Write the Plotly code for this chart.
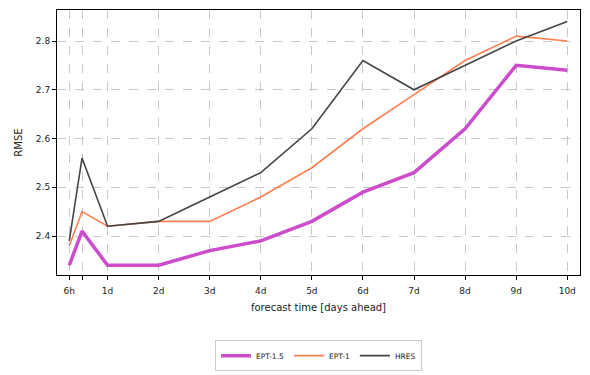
import plotly.graph_objects as go

days = [0.25, 0.5, 1, 2, 3, 4, 5, 6, 7, 8, 9, 10]
tick_vals = [0.25, 0.5, 1, 2, 3, 4, 5, 6, 7, 8, 9, 10]
tick_text = ["6h", "", "1d", "2d", "3d", "4d", "5d", "6d", "7d", "8d", "9d", "10d"]

ept15 = [2.34, 2.41, 2.34, 2.34, 2.37, 2.39, 2.43, 2.49, 2.53, 2.62, 2.75, 2.74]
ept1 = [2.38, 2.45, 2.42, 2.43, 2.43, 2.48, 2.54, 2.62, 2.69, 2.76, 2.81, 2.80]
hres = [2.39, 2.56, 2.42, 2.43, 2.48, 2.53, 2.62, 2.76, 2.70, 2.75, 2.80, 2.84]

fig = go.Figure()
fig.add_trace(go.Scatter(x=days, y=ept15, mode="lines", name="EPT-1.5",
                         line=dict(color="#cc4ccc", width=3.5)))
fig.add_trace(go.Scatter(x=days, y=ept1, mode="lines", name="EPT-1",
                         line=dict(color="#ff7f50", width=1.6)))
fig.add_trace(go.Scatter(x=days, y=hres, mode="lines", name="HRES",
                         line=dict(color="#444444", width=1.6)))

axis_common = dict(showline=True, linecolor="black", linewidth=1, mirror=True,
                   ticks="outside", ticklen=4, tickcolor="black",
                   showgrid=True, gridcolor="#c8c8c8", griddash="dash", gridwidth=0.8,
                   zeroline=False, tickfont=dict(size=9, color="#222"), automargin=False)

fig.update_layout(
    width=590, height=375,
    margin=dict(l=57, r=10, t=10, b=100, autoexpand=False),
    plot_bgcolor="white", paper_bgcolor="white",
    font=dict(family="DejaVu Sans", size=9, color="#222"),
    xaxis=dict(range=[0.01, 10.25], tickmode="array", tickvals=tick_vals, ticktext=tick_text,
               ticklabelstandoff=3,
               title=dict(text="forecast time [days ahead]", font=dict(size=10), standoff=9),
               **axis_common),
    yaxis=dict(range=[2.32, 2.8636], tickmode="array", tickvals=[2.4, 2.5, 2.6, 2.7, 2.8],
               ticktext=["2.4", "2.5", "2.6", "2.7", "2.8"],
               title=dict(text="RMSE", font=dict(size=10), standoff=11),
               **axis_common),
    legend=dict(orientation="h", x=0.5, xanchor="center", yref="container",
                y=0.093, yanchor="top",
                bordercolor="#cccccc", borderwidth=1, font=dict(size=7.5),
                itemwidth=30, tracegroupgap=0),
    showlegend=True,
)

post = ("document.body.style.margin='0';"
        "var d=document.getElementById('{plot_id}');"
        "d.style.position='fixed';d.style.top='0';d.style.left='0';")
fig.write_html("out.html", config={"displayModeBar": False}, post_script=post)
